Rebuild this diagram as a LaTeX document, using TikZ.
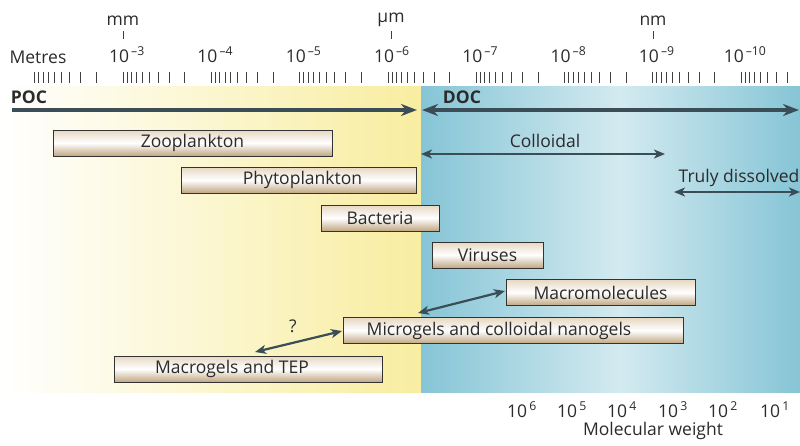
\documentclass[tikz,border=0pt]{standalone}
\usepackage{fontspec}
\setmainfont{Open Sans}
\usetikzlibrary{arrows.meta}
\definecolor{arr}{HTML}{3B4D57}
\definecolor{yel}{HTML}{F8EDA0}
\definecolor{blu}{HTML}{86C5D6}
\definecolor{bluL}{HTML}{D3EAF0}
\definecolor{boxT}{HTML}{E6D8C2}
\definecolor{boxB}{HTML}{C0A681}
\definecolor{txt}{HTML}{2B2B2B}
\tikzset{
  every node/.style={font=\fontsize{17.5}{20}\selectfont, text=txt},
  gbox/.style={draw=black!80, line width=0.9pt, top color=boxT, bottom color=boxB, middle color=white, minimum height=26pt, inner sep=0pt},
  bigarrow/.style={draw=arr, line width=4pt},
  midarrow/.style={draw=arr, line width=2.6pt},
  tick/.style={draw=black!75, line width=0.8pt},
  lab/.style={inner sep=0pt},
  btip/.tip={Stealth[length=16pt,width=12pt,inset=5pt]},
  mtip/.tip={Stealth[length=11pt,width=9pt,inset=3pt]}
}
\newcommand{\dec}[1]{10\textsuperscript{\,#1}}
\begin{document}
\begin{tikzpicture}[x=1pt,y=-1pt]
\useasboundingbox (0,0) rectangle (800,445);
% backgrounds
\shade[left color=white, right color=yel] (0,86) rectangle (421,392);
\shade[left color=blu, right color=bluL] (421,86) rectangle (620,392);
\shade[left color=bluL, right color=blu] (620,86) rectangle (800,392);
% unit labels
\node[lab] (mm) at (123,21) {mm};
\node[lab] (um) at (391,20) {µm};
\node[lab] (nm) at (653,21) {nm};
\foreach \x in {123,391,653} \draw[tick] (\x,31) -- (\x,39);
% decade labels
\node[lab] (metres) at (38,57) {Metres};
\foreach \k/\e in {3/–3,4/–4,5/–5,6/–6,7/–7,8/–8,9/–9,10/–10}{
  \pgfmathsetmacro{\xx}{123+(\k-3)*88.3}
  \node[lab, anchor=base] (d\k) at (\xx+4,62) {\dec{\e}};
}
% log ticks
\begin{scope}
\clip (30,60) rectangle (792,90);
\foreach \k in {2,...,11}{
  \foreach \m in {1,...,9}{
    \pgfmathsetmacro{\xx}{123+(\k-3)*88.3-88.3*log10(\m)}
    \draw[tick] (\xx,72) -- (\xx,83);
  }
}
\end{scope}
% POC / DOC
\node[lab, font=\fontsize{17.5}{20}\selectfont\bfseries] (poc) at (29,97) {POC};
\node[lab, font=\fontsize{17.5}{20}\selectfont\bfseries] (doc) at (462,97) {DOC};
\coordinate (pocL) at (12,110);
\coordinate (pocR) at (417,110);
\coordinate (docL) at (422,110);
\coordinate (docR) at (799,110);
\draw[bigarrow, -{btip}] (pocL) -- (pocR);
\draw[bigarrow, {btip}-{btip}] (docL) -- (docR);
% colloidal / truly dissolved
\coordinate (colL) at (421,154);
\coordinate (colR) at (665,154);
\draw[midarrow, {mtip}-{mtip}] (colL) -- (colR);
\node[lab] (collab) at (545,141) {Colloidal};
\coordinate (tdL) at (674,192);
\coordinate (tdR) at (800,192);
\draw[midarrow, {mtip}-{mtip}] (tdL) -- (tdR);
\node[lab] (tdlab) at (739,178) {Truly dissolved};
% boxes
\node[gbox, minimum width=279pt] (zoo) at (192.5,143) {Zooplankton};
\node[gbox, minimum width=235pt, label={[lab,xshift=4pt]center:Phytoplankton}] (phy) at (298.5,180) {};
\node[gbox, minimum width=118pt] (bac) at (380,218) {Bacteria};
\node[gbox, minimum width=111pt] (vir) at (487.5,255) {Viruses};
\node[gbox, minimum width=189pt] (mac) at (600.5,292.5) {Macromolecules};
\node[gbox, minimum width=340pt, label={[lab,xshift=-14pt]center:Microgels and colloidal nanogels}] (mic) at (513,330.5) {};
\node[gbox, minimum width=268pt, label={[lab,xshift=-16pt]center:Macrogels and TEP}] (mgl) at (248,369) {};
% relation arrows
\coordinate (a1) at (418,313);
\coordinate (a2) at (505,291);
\draw[midarrow, line width=2.2pt, {mtip}-{mtip}] (a1) -- (a2);
\coordinate (b1) at (255,352);
\coordinate (b2) at (342,331);
\draw[midarrow, line width=2.2pt, {mtip}-{mtip}] (b1) -- (b2);
\node[lab] (q) at (293,326) {?};
% molecular weight
\foreach \x/\e [count=\i] in {522/6,572/5,622/4,673/3,723/2,775/1}{
  \node[lab, anchor=base] (mw\i) at (\x,417) {\dec{\e}};
}
\node[lab] (mwlab) at (653,431) {Molecular weight};
\end{tikzpicture}
\end{document}
